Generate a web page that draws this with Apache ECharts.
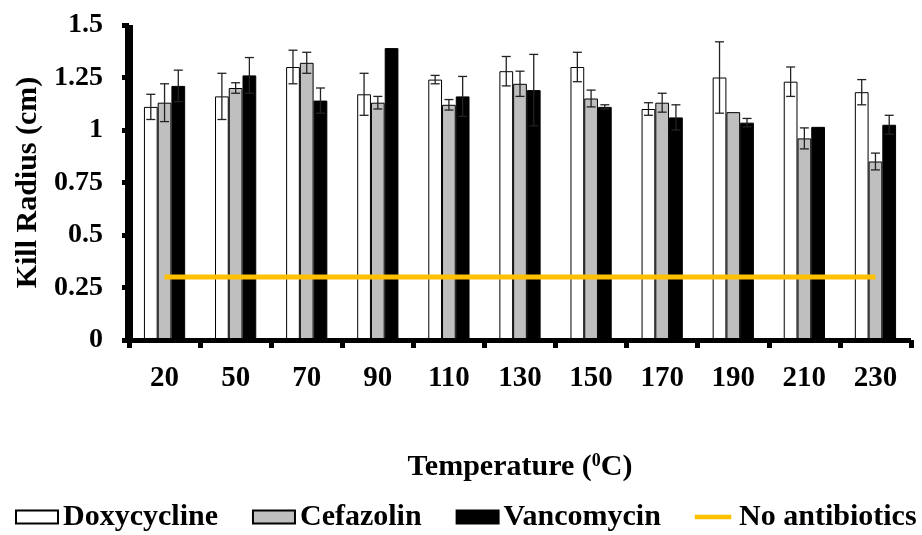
<!DOCTYPE html>
<html>
<head>
<meta charset="utf-8">
<script src="https://cdn.jsdelivr.net/npm/echarts@6/dist/echarts.min.js"></script>
<style>
html,body{margin:0;padding:0;background:#fff;}
#chart{width:922px;height:535px;}
</style>
</head>
<body>
<div id="chart"></div>
<script>
var categories = ['20','50','70','90','110','130','150','170','190','210','230'];
var doxycycline = [1.11, 1.16, 1.30, 1.17, 1.24, 1.28, 1.30, 1.10, 1.25, 1.23, 1.18];
var doxycyclineErr = [0.06, 0.11, 0.08, 0.10, 0.02, 0.07, 0.07, 0.03, 0.17, 0.07, 0.06];
var cefazolin = [1.13, 1.20, 1.32, 1.13, 1.12, 1.22, 1.15, 1.13, 1.085, 0.96, 0.85];
var cefazolinErr = [0.09, 0.025, 0.05, 0.03, 0.025, 0.06, 0.04, 0.045, 0, 0.05, 0.04];
var vancomycin = [1.21, 1.26, 1.14, 1.39, 1.16, 1.19, 1.11, 1.06, 1.035, 1.015, 1.025];
var vancomycinErr = [0.075, 0.085, 0.06, 0, 0.095, 0.17, 0.01, 0.06, 0.02, 0, 0.045];
var noAntibiotics = [0.3, 0.3, 0.3, 0.3, 0.3, 0.3, 0.3, 0.3, 0.3, 0.3, 0.3];
var yTicks = {min: 0, max: 1.5, interval: 0.25};

var FONT = 'Liberation Serif';
var CAT_GAP = 0.42;
var N_BARS = 3;

function errData(vals, errs) {
  return vals.map(function (v, i) { return [i, v, errs[i]]; });
}
function errSeries(name, vals, errs, slot) {
  return {
    type: 'custom',
    name: name + ' error',
    z: 5,
    data: errData(vals, errs),
    renderItem: function (params, api) {
      var idx = api.value(0), v = api.value(1), e = api.value(2);
      if (!e) return null;
      var band = api.size([1, 0])[0];
      var bw = band * (1 - CAT_GAP) / N_BARS;
      var c = api.coord([idx, v]);
      var x = c[0] + (slot - 1) * bw;
      var yTop = api.coord([idx, v + e])[1];
      var yBot = api.coord([idx, v - e])[1];
      var cap = 4.5;
      var st = {stroke: '#222', lineWidth: 1.3};
      return {
        type: 'group',
        children: [
          {type: 'line', shape: {x1: x, y1: yTop, x2: x, y2: yBot}, style: st},
          {type: 'line', shape: {x1: x - cap, y1: yTop, x2: x + cap, y2: yTop}, style: st},
          {type: 'line', shape: {x1: x - cap, y1: yBot, x2: x + cap, y2: yBot}, style: st}
        ]
      };
    }
  };
}

var chart = echarts.init(document.getElementById('chart'), null, {renderer: 'canvas'});
chart.setOption({
  animation: false,
  textStyle: {fontFamily: FONT, color: '#000'},
  grid: {left: 129, right: 11, top: 25, bottom: 195, containLabel: false},
  legend: {
    left: 15, top: 502, padding: 0, itemGap: 34,
    itemWidth: 42, itemHeight: 13,
    textStyle: {fontFamily: FONT, fontWeight: 'bold', fontSize: 30, color: '#000'},
    data: [
      {name: 'Doxycycline', icon: 'rect'},
      {name: 'Cefazolin', icon: 'rect'},
      {name: 'Vancomycin', icon: 'rect'},
      {name: 'No antibiotics', icon: 'path://M0,0 L0,0 M0,5 L42,5 L42,10 L0,10 Z M42,15 L42,15', itemStyle: {color: '#ffc000', borderWidth: 0}}
    ]
  },
  xAxis: {
    type: 'category',
    z: 10,
    data: categories,
    boundaryGap: true,
    axisLine: {lineStyle: {color: '#000', width: 5, cap: 'butt'}},
    axisTick: {show: true, alignWithLabel: false, length: 8, inside: false, lineStyle: {color: '#000', width: 5}},
    axisLabel: {margin: 24, fontFamily: FONT, fontWeight: 'bold', fontSize: 29, color: '#000', interval: 0},
    splitLine: {show: false},
    name: 'Temperature ({sup|0}C)',
    nameLocation: 'middle',
    nameGap: 112,
    nameTextStyle: {
      fontFamily: FONT, fontWeight: 'bold', fontSize: 30, color: '#000',
      rich: {sup: {fontFamily: FONT, fontWeight: 'bold', fontSize: 18, color: '#000', verticalAlign: 'top', padding: [0, 0, 12, 0]}}
    }
  },
  yAxis: {
    type: 'value',
    z: 10,
    min: yTicks.min, max: yTicks.max, interval: yTicks.interval,
    axisLine: {show: true, onZero: false, lineStyle: {color: '#000', width: 8, type: 'solid', cap: 'butt'}},
    axisTick: {show: true, length: 7, lineStyle: {color: '#000', width: 5}},
    axisLabel: {margin: 26, fontFamily: FONT, fontWeight: 'bold', fontSize: 28, color: '#000'},
    splitLine: {show: false},
    name: 'Kill Radius (cm)',
    nameLocation: 'middle',
    nameRotate: 90,
    nameGap: 86,
    nameTextStyle: {fontFamily: FONT, fontWeight: 'bold', fontSize: 30, color: '#000', padding: [0, 0, 0, 0]}
  },
  series: [
    {type: 'bar', name: 'Doxycycline', data: doxycycline, barGap: '0%', barCategoryGap: '42%',
     itemStyle: {color: '#ffffff', borderColor: '#000', borderWidth: 1}},
    {type: 'bar', name: 'Cefazolin', data: cefazolin, barGap: '0%', barCategoryGap: '42%',
     itemStyle: {color: '#bfbfbf', borderColor: '#000', borderWidth: 1}},
    {type: 'bar', name: 'Vancomycin', data: vancomycin, barGap: '0%', barCategoryGap: '42%',
     itemStyle: {color: '#000000', borderColor: '#000', borderWidth: 1}},
    errSeries('Doxycycline', doxycycline, doxycyclineErr, 0),
    errSeries('Cefazolin', cefazolin, cefazolinErr, 1),
    errSeries('Vancomycin', vancomycin, vancomycinErr, 2),
    {type: 'line', name: 'No antibiotics', data: noAntibiotics, symbol: 'none', showSymbol: false, z: 6,
     lineStyle: {color: '#ffc000', width: 5}, itemStyle: {color: '#ffc000'}}
  ]
});
</script>
</body>
</html>
